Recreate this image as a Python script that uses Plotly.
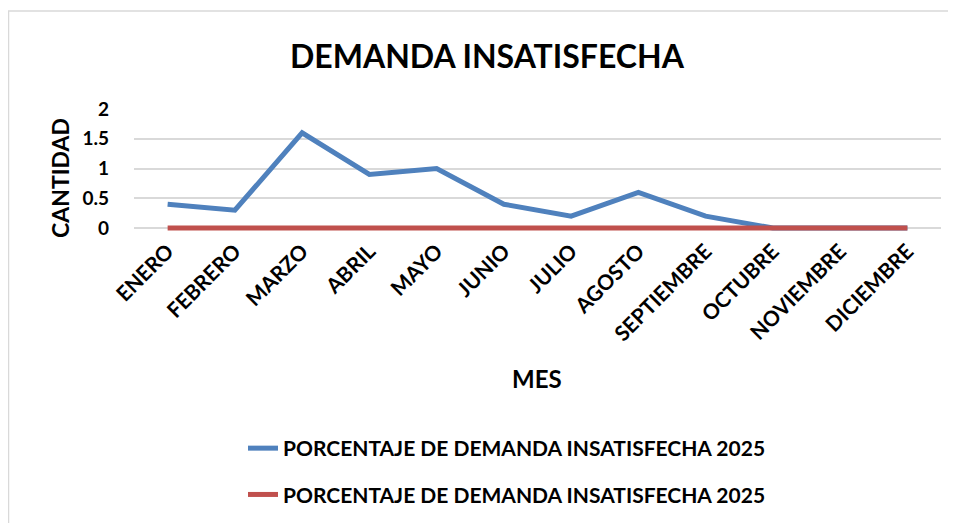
import plotly.graph_objects as go

meses = ["ENERO", "FEBRERO", "MARZO", "ABRIL", "MAYO", "JUNIO", "JULIO",
         "AGOSTO", "SEPTIEMBRE", "OCTUBRE", "NOVIEMBRE", "DICIEMBRE"]
serie_azul = [0.4, 0.3, 1.6, 0.9, 1.0, 0.4, 0.2, 0.6, 0.2, 0.0, 0.0, 0.0]
serie_roja = [0, 0, 0, 0, 0, 0, 0, 0, 0, 0, 0, 0]
nombre_serie = "PORCENTAJE DE DEMANDA INSATISFECHA 2025"
y_ticks = [0, 0.5, 1, 1.5, 2]

W, H = 948, 515
OFF = 8  # page body margin
# target page pixel positions
PL, PR, PT, PB = 134, 941, 109, 234
L, T = PL - OFF, PT - OFF
R = W - (PR - OFF)
B = H - (PB - OFF)
pw = W - L - R
ph = H - T - B

def px_x(p):
    return (p - OFF - L) / pw

def px_y(p):
    return (H - B - (p - OFF)) / ph

FONT = "Lato"

fig = go.Figure()
fig.add_trace(go.Scatter(x=meses, y=serie_azul, mode="lines", name=nombre_serie,
                         line=dict(color="#4F81BD", width=5), legendgroup="a"))
fig.add_trace(go.Scatter(x=meses, y=serie_roja, mode="lines", name=nombre_serie,
                         line=dict(color="#C0504D", width=5), legendgroup="b"))

fig.update_layout(
    width=W, height=H,
    margin=dict(l=L, r=R, t=T, b=B, autoexpand=False),
    paper_bgcolor="white", plot_bgcolor="white",
    font=dict(family=FONT, color="black"),
    showlegend=True,
    legend=dict(x=px_x(243), y=px_y(428), xanchor="left", yanchor="top",
                orientation="v", traceorder="grouped", tracegroupgap=16,
                font=dict(family=FONT, size=21, color="black", weight="bold"),
                bgcolor="rgba(0,0,0,0)"),
    xaxis=dict(type="category", range=[-0.5, 11.5], tickangle=-45, showgrid=False,
               zeroline=False, showline=False, ticks="", automargin=False,
               tickfont=dict(family=FONT, size=21, color="black", weight="bold")),
    yaxis=dict(range=[-0.1, 2], tickvals=y_ticks, ticktext=[str(v) for v in y_ticks],
               showgrid=True, gridcolor="#D9D9D9", gridwidth=1.5, zeroline=False,
               showline=False, ticks="", ticklabelstandoff=24, automargin=False,
               tickfont=dict(family=FONT, size=19, color="black", weight="bold")),
    annotations=[
        dict(text="DEMANDA INSATISFECHA", xref="paper", yref="paper",
             x=px_x(487), y=px_y(55), xanchor="center", yanchor="middle",
             showarrow=False, font=dict(family=FONT, size=32, color="black", weight="bold")),
        dict(text="MES", xref="paper", yref="paper",
             x=px_x(537), y=px_y(378), xanchor="center", yanchor="middle",
             showarrow=False, font=dict(family=FONT, size=24, color="black", weight="bold")),
        dict(text="CANTIDAD", xref="paper", yref="paper", textangle=-90,
             x=px_x(60), y=px_y(178), xanchor="center", yanchor="middle",
             showarrow=False, font=dict(family=FONT, size=23, color="black", weight="bold")),
    ],
    shapes=[
        dict(type="line", xref="paper", yref="paper",
             x0=px_x(8), y0=px_y(11), x1=px_x(970), y1=px_y(11),
             line=dict(color="#D9D9D9", width=1.5)),
        dict(type="line", xref="paper", yref="paper",
             x0=px_x(8.5), y0=px_y(11), x1=px_x(8.5), y1=px_y(540),
             line=dict(color="#D9D9D9", width=1.5)),
    ],
)

fig.write_html("out.html")
